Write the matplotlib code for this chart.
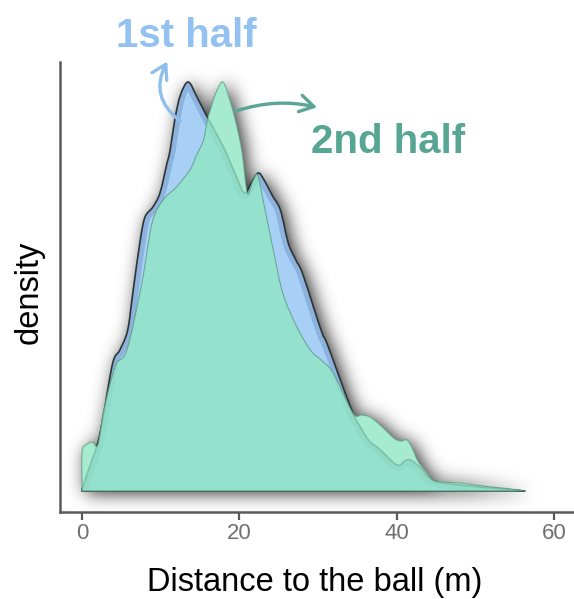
import matplotlib
matplotlib.use("Agg")
import numpy as np
import matplotlib.pyplot as plt
from matplotlib.path import Path
from matplotlib.patches import PathPatch

plt.rcParams['font.family'] = ['Liberation Sans', 'DejaVu Sans']

# --- datos (densidad en unidades arbitrarias) ---
dist_1st = [0.0, 1.0, 2.0, 2.7, 3.9, 4.8, 5.8, 6.5, 7.4, 8.0, 9.0, 9.9, 10.8, 11.2,
            11.8, 12.5, 13.5, 14.6, 15.9, 17.9, 19.3, 20.6, 21.5, 22.4, 23.2, 24.2,
            25.2, 26.2, 27.1, 28.0, 29.4, 30.5, 31.1, 32.5, 34.4, 35.5, 36.5, 37.9,
            40.0, 41.0, 41.7, 42.9, 44.0, 45.1, 48.0, 52.0, 56.3]
dens_1st = [2, 25, 48, 75, 128, 141, 161, 201, 251, 274, 284, 298, 328, 341,
            372, 396, 409, 394, 374, 345, 320, 298, 308, 318, 310, 295,
            281, 248, 232, 218, 184, 158, 148, 118, 78, 62, 50, 41,
            26, 30, 31, 24, 14, 9, 6, 3, 0]

dist_2nd = [0.0, 0.0, 0.5, 1.3, 2.0, 2.7, 3.5, 4.4, 5.7, 7.6, 8.9, 10.3, 12.0, 13.7,
            14.5, 15.4, 15.9, 16.3, 17.0, 17.9, 18.8, 19.5, 20.3, 21.0, 21.7, 22.3,
            23.0, 24.3, 25.5, 27.3, 29.0, 30.5, 31.9, 34.4, 35.5, 36.6, 38.0, 39.6,
            40.5, 41.3, 42.0, 42.6, 43.6, 44.6, 46.0, 48.0, 50.0, 52.0, 54.0, 56.3]
dens_2nd = [0, 39, 46, 49, 46, 78, 105, 128, 141, 208, 268, 291, 304, 321,
            335, 350, 370, 381, 398, 409, 390, 370, 340, 298, 310, 316,
            291, 241, 198, 164, 141, 130, 118, 78, 76, 74, 65, 53,
            50, 51, 42, 31, 20, 11, 9, 8, 6, 4, 2.5, 0]

eje_x = [0, 20, 40, 60]

AZUL = '#a8d0f6'
VERDE = '#90e6c3'
XLIM = (-2.8, 62.5)
YLIM = (-21, 429)


def curva(xs, ys, cerrada=True):
    # curva suave (Catmull-Rom -> Bezier) que pasa por los puntos leidos
    p = np.column_stack([xs, ys]).astype(float)
    n = len(p)
    verts, codes = [], []
    if cerrada:
        verts.append((p[0, 0], 0.0)); codes.append(Path.MOVETO)
        verts.append(tuple(p[0])); codes.append(Path.LINETO)
    else:
        verts.append(tuple(p[0])); codes.append(Path.MOVETO)
    for i in range(n - 1):
        p0 = p[max(i - 1, 0)]
        p1, p2 = p[i], p[i + 1]
        p3 = p[min(i + 2, n - 1)]
        c1 = p1 + (p2 - p0) / 6.0
        c2 = p2 - (p3 - p1) / 6.0
        c1[1] = max(c1[1], 0); c2[1] = max(c2[1], 0)
        verts += [tuple(c1), tuple(c2), tuple(p2)]
        codes += [Path.CURVE4] * 3
    if cerrada:
        verts.append((p[-1, 0], 0.0)); codes.append(Path.LINETO)
        verts.append((p[0, 0], 0.0)); codes.append(Path.CLOSEPOLY)
    return Path(verts, codes)


fig = plt.figure(figsize=(5.74, 5.99), dpi=100)
ax = fig.add_axes([60 / 574, 87 / 599, 514 / 574, 450 / 599])
ax.set_xlim(*XLIM)
ax.set_ylim(*YLIM)

ruta1 = curva(dist_1st, dens_1st)
ruta2 = curva(dist_2nd, dens_2nd)

# sombra difusa: mascara de las dos areas, desplazada y desenfocada
W, H = 514, 450
gx = np.linspace(XLIM[0], XLIM[1], W)
gy = np.linspace(YLIM[0], YLIM[1], H)
dx_px = 4 * (XLIM[1] - XLIM[0]) / W
dy_px = 2 * (YLIM[1] - YLIM[0]) / H
XX, YY = np.meshgrid(gx - dx_px, gy + dy_px)
pts = np.column_stack([XX.ravel(), YY.ravel()])
mascara = (ruta1.contains_points(pts) | ruta2.contains_points(pts)).reshape(H, W).astype(float)
k = np.arange(-32, 33)
nucleo = np.exp(-0.5 * (k / 9.0) ** 2)
nucleo /= nucleo.sum()
borrosa = np.apply_along_axis(lambda r: np.convolve(r, nucleo, mode='same'), 1, mascara)
borrosa = np.apply_along_axis(lambda c: np.convolve(c, nucleo, mode='same'), 0, borrosa)
rgba = np.zeros((H, W, 4))
rgba[..., 3] = 0.85 * borrosa
ax.imshow(rgba, origin='lower', extent=(XLIM[0], XLIM[1], YLIM[0], YLIM[1]),
          aspect='auto', interpolation='bilinear', zorder=1)

# fondo blanco bajo las areas
for r in [ruta1, ruta2]:
    ax.add_patch(PathPatch(r, facecolor='white', edgecolor='none', zorder=2))

# 1er tiempo
azul = PathPatch(ruta1, facecolor=AZUL, edgecolor='none', zorder=3)
ax.add_patch(azul)
banda = PathPatch(curva(dist_1st, dens_1st, cerrada=False), facecolor='none',
                  edgecolor='#6a8fc2', linewidth=8, alpha=0.45, zorder=3.1)
ax.add_patch(banda)
banda.set_clip_path(azul)
ax.add_patch(PathPatch(ruta1, facecolor='none', edgecolor='#2f3535',
                       linewidth=1.2, zorder=3.2))

# 2do tiempo
ax.add_patch(PathPatch(ruta2, facecolor=VERDE, edgecolor='#5f9c86',
                       linewidth=0.8, alpha=0.8, zorder=4))

# ejes
for lado in ['top', 'right']:
    ax.spines[lado].set_visible(False)
for lado in ['left', 'bottom']:
    ax.spines[lado].set_color('#5a5a5a')
    ax.spines[lado].set_linewidth(1.8)
    ax.spines[lado].set_zorder(5)
ax.set_yticks([])
ax.set_xticks(eje_x)
ax.tick_params(axis='x', length=6, width=1.6, color='#5a5a5a', labelcolor='#707070',
               labelsize=16, pad=2)
ax.set_xlabel('Distance to the ball (m)', fontsize=23.5, color='black')
ax.xaxis.set_label_coords(0.496, -0.122)
ax.set_ylabel('density', fontsize=23.5, color='black')
ax.yaxis.set_label_coords(-0.029, 0.489)

# etiquetas con flechas
ax.text(13.2, 444, '1st half', fontsize=29, fontweight='bold', color='#93c2f2',
        ha='center', va='baseline', clip_on=False, zorder=6)
ax.text(38.9, 338, '2nd half', fontsize=29, fontweight='bold', color='#57a693',
        ha='center', va='baseline', clip_on=False, zorder=6)
ax.annotate('', xy=(11.0, 432), xytext=(12.8, 368), annotation_clip=False,
            arrowprops=dict(arrowstyle='->,head_length=0.5,head_width=0.3',
                            connectionstyle='arc3,rad=-0.45', color='#8ebeea',
                            lw=2.4, mutation_scale=20), zorder=6)
ax.annotate('', xy=(30.2, 383), xytext=(19.2, 379), annotation_clip=False,
            arrowprops=dict(arrowstyle='->,head_length=0.5,head_width=0.3',
                            connectionstyle='arc3,rad=-0.15', color='#5aa595',
                            lw=2.4, mutation_scale=20), zorder=6)

fig.savefig('out.png', dpi=100)
